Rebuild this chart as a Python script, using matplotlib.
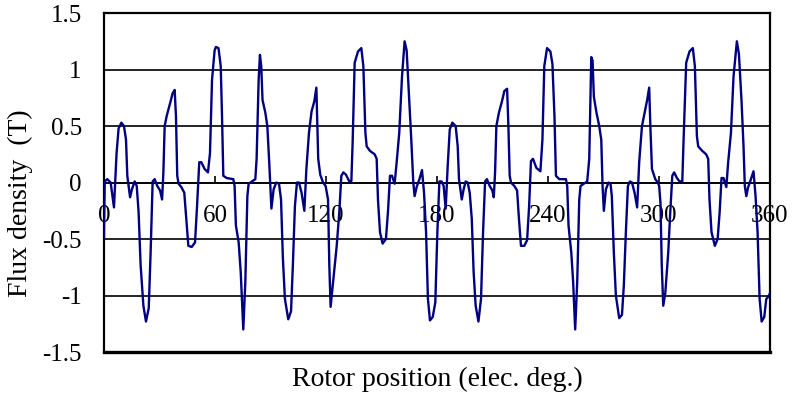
import matplotlib
matplotlib.use("Agg")
import matplotlib.pyplot as plt
import numpy as np

# flux density waveform (deg, T)
position = [
    0.0, 0.4, 1.8, 3.6, 5.4, 6.8, 7.9, 9.4, 10.8, 11.9, 12.6, 14.1, 15.1, 16.6, 17.7,
    18.7, 19.8, 21.3, 22.7, 24.2, 25.2, 26.3, 27.4, 28.8, 30.3, 31.4, 32.1, 32.8, 33.9,
    35.7, 37.1, 38.2, 38.9, 39.6, 40.3, 41.8, 43.4, 44.5, 45.6, 47.4, 49.2, 50.3, 51.5,
    52.6, 54.4, 56.2, 57.3, 58.4, 59.8, 60.5, 61.9, 63.1, 63.8, 64.5, 66.3, 69.9, 70.6,
    71.3, 72.8, 73.9, 75.3, 76.4, 77.5, 78.2, 80.0, 81.8, 82.5, 83.6, 84.3, 85.0, 85.7,
    87.2, 88.3, 89.4, 90.5, 91.7, 93.1, 94.6, 95.7, 96.7, 97.8, 99.6, 101.1, 102.1,
    103.2, 104.3, 105.4, 106.8, 108.3, 109.4, 110.8, 112.2, 113.7, 114.8, 115.8, 116.9,
    118.4, 119.8, 121.1, 121.8, 122.5, 124.0, 125.8, 127.2, 128.3, 129.4, 130.8, 132.6,
    133.7, 134.4, 135.5, 137.3, 139.1, 140.2, 141.3, 142.0, 143.8, 146.3, 147.4, 148.1,
    149.2, 150.6, 152.4, 153.5, 154.6, 155.7, 157.1, 158.2, 159.6, 161.1, 162.5, 163.6,
    164.7, 166.1, 167.2, 167.9, 169.0, 170.5, 171.9, 173.0, 174.1, 175.1, 176.2, 177.7,
    179.1, 180.2, 181.3, 182.5, 183.6, 184.7, 185.8, 186.9, 188.3, 190.1, 191.2, 191.9,
    193.4, 194.4, 195.5, 196.6, 197.7, 198.8, 199.8, 200.9, 202.4, 203.8, 204.9, 206.0,
    207.0, 208.5, 209.9, 210.7, 211.4, 212.1, 213.5, 215.3, 216.4, 217.9, 218.6, 219.3,
    220.0, 221.8, 223.3, 224.3, 225.4, 227.2, 228.7, 229.8, 230.8, 231.9, 233.7, 235.9,
    237.0, 238.0, 239.5, 241.3, 242.4, 243.5, 244.3, 246.1, 248.2, 249.7, 250.4, 251.1,
    252.6, 253.6, 254.7, 255.8, 256.9, 257.6, 259.4, 261.2, 262.3, 263.4, 264.1, 264.8,
    266.2, 267.7, 268.8, 269.5, 270.2, 271.3, 272.7, 273.8, 274.5, 275.6, 276.7, 278.5,
    280.0, 281.0, 282.1, 283.2, 284.3, 285.4, 286.8, 288.2, 289.3, 290.8, 292.6, 293.6,
    294.7, 295.4, 296.2, 298.0, 299.4, 300.1, 300.8, 301.5, 302.3, 303.4, 305.0, 306.1,
    307.2, 308.2, 309.7, 311.1, 312.6, 313.3, 314.7, 316.5, 318.3, 319.4, 320.5, 321.2,
    323.4, 325.5, 326.6, 327.3, 328.4, 330.2, 331.7, 332.8, 333.8, 334.9, 336.4, 337.4,
    338.9, 340.3, 342.1, 343.2, 344.6, 345.7, 346.4, 347.2, 348.2, 349.3, 351.1, 352.2,
    353.3, 354.4, 355.5, 356.9, 358.0, 359.1, 360.0,
]
flux = [
    -0.48, 0.01, 0.03, 0.00, -0.22, 0.26, 0.48, 0.53, 0.50, 0.38, 0.06, -0.13, -0.06, 0.01, -0.03,
    -0.26, -0.73, -1.09, -1.23, -1.11, -0.62, 0.01, 0.03, -0.03, -0.07, -0.15, 0.09, 0.50, 0.59,
    0.70, 0.79, 0.82, 0.59, 0.06, -0.01, -0.04, -0.09, -0.32, -0.56, -0.57, -0.53, -0.21, 0.18,
    0.18, 0.12, 0.09, 0.26, 0.91, 1.17, 1.20, 1.19, 1.03, 0.59, 0.06, 0.04, 0.03, -0.03,
    -0.38, -0.53, -0.79, -1.30, -0.88, -0.12, -0.01, 0.01, 0.03, 0.21, 0.91, 1.13, 1.03, 0.73,
    0.62, 0.50, 0.15, -0.23, -0.06, 0.00, -0.01, -0.15, -0.67, -1.03, -1.21, -1.14, -0.73,
    -0.21, 0.00, 0.00, -0.09, -0.25, 0.12, 0.44, 0.63, 0.72, 0.84, 0.21, 0.07,
    0.00, -0.03, -0.15, -0.73, -1.10, -0.85, -0.56, -0.26, 0.06, 0.09, 0.07, 0.01,
    0.01, 0.35, 1.06, 1.16, 1.19, 1.03, 0.44, 0.32, 0.28, 0.25, 0.21, -0.15,
    -0.44, -0.54, -0.50, -0.26, 0.06, 0.06, -0.01, 0.18, 0.44, 0.94, 1.25, 1.17,
    0.82, 0.38, 0.00, -0.12, -0.04, 0.03, 0.11, -0.09, -0.44, -1.03, -1.22, -1.19,
    -1.06, -0.44, 0.01, 0.01, -0.03, -0.23, 0.15, 0.47, 0.53, 0.50, 0.32, 0.03,
    -0.15, -0.06, 0.01, 0.00, -0.09, -0.32, -0.79, -1.09, -1.23, -1.03, -0.44, 0.01,
    0.03, -0.03, -0.07, -0.13, 0.09, 0.50, 0.62, 0.73, 0.81, 0.83, 0.50, 0.06,
    0.00, -0.03, -0.07, -0.32, -0.56, -0.56, -0.51, -0.21, 0.19, 0.21, 0.13, 0.10,
    0.38, 1.03, 1.19, 1.16, 1.05, 0.59, 0.06, 0.03, 0.03, 0.03, -0.03, -0.38,
    -0.62, -0.88, -1.30, -0.88, -0.15, -0.03, -0.01, 0.01, 0.21, 1.11, 1.08, 0.76,
    0.62, 0.50, 0.38, -0.03, -0.25, -0.06, 0.00, -0.01, -0.12, -0.62, -1.00, -1.20,
    -1.17, -0.91, -0.44, -0.03, 0.01, 0.00, -0.09, -0.22, 0.18, 0.50, 0.65, 0.73,
    0.84, 0.47, 0.12, 0.03, 0.00, -0.03, -0.18, -0.73, -1.09, -0.98, -0.62, -0.26,
    0.06, 0.09, 0.04, 0.01, 0.01, 0.38, 1.06, 1.16, 1.19, 1.03, 0.41, 0.32,
    0.28, 0.25, 0.21, -0.15, -0.44, -0.56, -0.50, -0.26, 0.04, 0.04, -0.04, 0.18,
    0.44, 0.94, 1.25, 1.14, 0.73, 0.32, -0.03, -0.12, -0.04, 0.01, 0.10, -0.12,
    -0.44, -1.03, -1.23, -1.19, -1.03, -1.01, -0.98,
]

x_ticks = [0, 60, 120, 180, 240, 300, 360]
y_ticks = [-1.5, -1, -0.5, 0, 0.5, 1, 1.5]
y_labels = ["-1.5", "-1", "-0.5", "0", "0.5", "1", "1.5"]

plt.rcParams['font.family'] = ['Liberation Serif', 'DejaVu Serif']

fig = plt.figure(figsize=(7.92, 3.96), dpi=100)
ax = fig.add_axes([0.1313, 0.111, 0.8409, 0.856])

ax.plot(position, flux, color='#000080', lw=1.7, zorder=3)

ax.set_xlim(0, 360)
ax.set_ylim(-1.5, 1.5)
ax.set_yticks(y_ticks)
ax.set_yticklabels(y_labels)
ax.set_xticks(x_ticks)
ax.set_xticklabels([str(t) for t in x_ticks])

ax.grid(axis='y', color='black', lw=1.2)
ax.set_axisbelow(True)

# x axis sits on the zero line, frame drawn separately
ax.spines['bottom'].set_position(('data', 0))
ax.spines['bottom'].set_linewidth(1.2)
for side in ['top', 'left', 'right']:
    ax.spines[side].set_linewidth(1.6)
ax.axhline(-1.5, color='black', lw=2.4, clip_on=False, zorder=4)

ax.tick_params(axis='x', direction='in', length=5, width=1.2, pad=16, labelsize=18)
ax.tick_params(axis='y', length=0, pad=16, labelsize=18)

ax.set_xlabel('Rotor position (elec. deg.)', fontsize=20, labelpad=0)
ax.set_ylabel('Flux density  (T)', fontsize=20)
ax.xaxis.set_label_coords(0.5, -0.045)
ax.yaxis.set_label_coords(-0.106, 0.44)

fig.savefig('out.png', dpi=100)
